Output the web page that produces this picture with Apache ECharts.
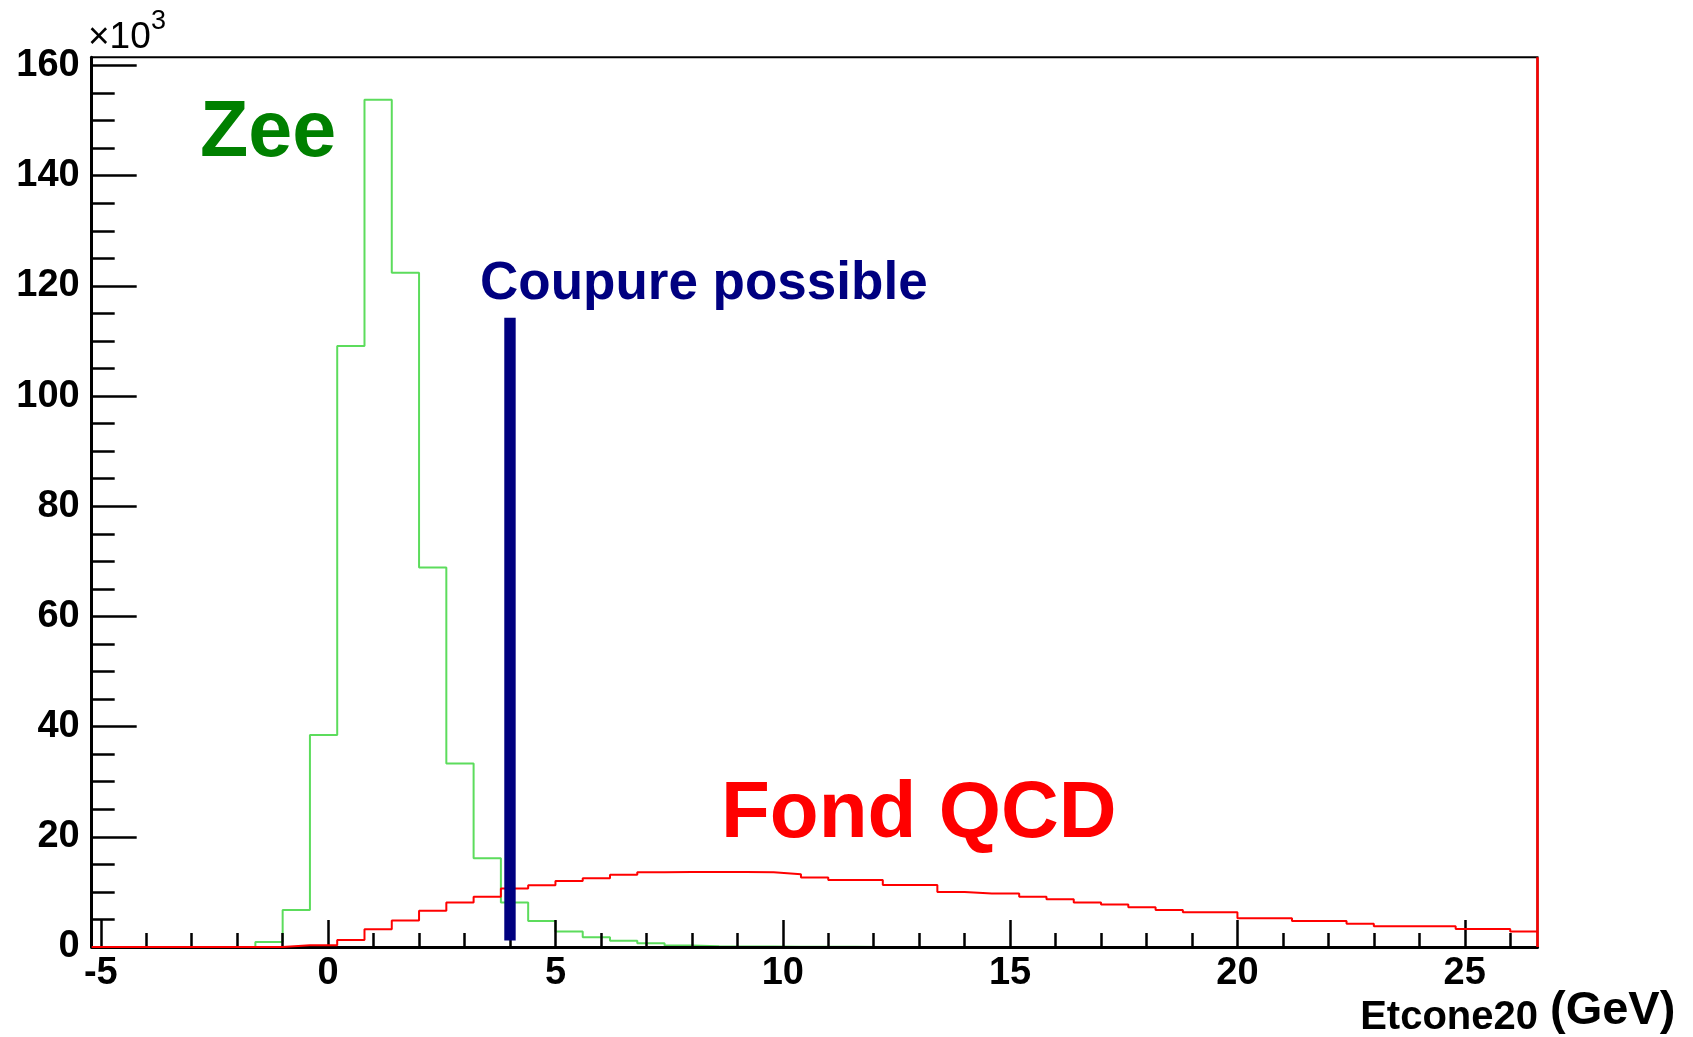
<!DOCTYPE html>
<html>
<head>
<meta charset="utf-8">
<script src="https://cdn.jsdelivr.net/npm/echarts@6/dist/echarts.min.js"></script>
<style>
  html, body { margin: 0; padding: 0; background: #ffffff; }
  #chart { width: 1693px; height: 1037px; }
</style>
</head>
<body>
<div id="chart"></div>
<script>
// Histogram binning (GeV)
const xMin = -5.2;
const xMax = 26.6;
const binWidth = 0.6;

// Entries per bin, in thousands (x10^3)
const zeeCounts = [
  0, 0, 0, 0, 0, 0, 0.9, 6.7, 38.5, 109.1,
  153.8, 122.4, 68.9, 33.3, 16.1, 8.1, 4.7, 2.8, 1.75, 1.15,
  0.7, 0.25, 0.15, 0.1, 0.08, 0.05, 0.04, 0.03, 0.02, 0.02,
  0.01, 0.01, 0, 0, 0, 0, 0, 0, 0, 0,
  0, 0, 0, 0, 0, 0, 0, 0, 0, 0,
  0, 0, 0
];
const qcdCounts = [
  0, 0, 0, 0, 0, 0, 0, 0.3, 0.3, 1.27,
  3.2, 4.8, 6.6, 8.1, 9.1, 10.6, 11.2, 12.0, 12.5, 13.1,
  13.55, 13.6, 13.6, 13.6, 13.55, 13.2, 12.6, 12.15, 12.15, 11.25,
  11.25, 10.0, 9.7, 9.7, 9.1, 8.65, 8.1, 7.7, 7.2, 6.7,
  6.3, 6.3, 5.2, 5.2, 4.7, 4.7, 4.2, 3.75, 3.75, 3.75,
  3.27, 3.27, 2.8
];

// Proposed isolation cut
const cutPosition = 4.0;
const cutSpan = [1.2, 114.2];

// Axis ticks
const yMax = 161.5;
const yTickLabels = [0, 20, 40, 60, 80, 100, 120, 140, 160];
const yMinorTicks = [0, 5, 10, 15, 20, 25, 30, 35, 40, 45, 50, 55, 60, 65, 70, 75, 80, 85, 90, 95,
  100, 105, 110, 115, 120, 125, 130, 135, 140, 145, 150, 155, 160];
const xTickLabels = [-5, 0, 5, 10, 15, 20, 25];
const xMinorTicks = [-5, -4, -3, -2, -1, 0, 1, 2, 3, 4, 5, 6, 7, 8, 9, 10, 11, 12, 13, 14, 15,
  16, 17, 18, 19, 20, 21, 22, 23, 24, 25, 26];

// Left bin edges, then a closing point at the upper edge
function stepPoints(values) {
  const pts = values.map((v, i) => [+(xMin + i * binWidth).toFixed(2), v]);
  pts.push([xMax, values[values.length - 1]]);
  return pts;
}

const labelFont = { fontFamily: 'Liberation Sans, Arial, sans-serif', fontWeight: 'bold', fontSize: 38, color: '#000' };
const tickStyle = { color: '#000', width: 2.5 };

const chart = echarts.init(document.getElementById('chart'), null, { renderer: 'canvas' });

chart.setOption({
  animation: false,
  backgroundColor: '#ffffff',
  grid: {
    left: 91.7, top: 57.3, right: 155.5, bottom: 90,
    show: true, borderColor: '#000', borderWidth: 2, backgroundColor: 'transparent',
    containLabel: false, outerBoundsMode: 'none'
  },
  xAxis: [
    {
      type: 'value', min: xMin, max: xMax, z: 2, position: 'bottom',
      axisLine: { show: true, onZero: false, lineStyle: { color: '#000', width: 3 } },
      axisTick: { show: true, inside: true, length: 27, customValues: xTickLabels, lineStyle: tickStyle },
      axisLabel: Object.assign({ show: true, margin: 8, customValues: xTickLabels, formatter: v => String(v) }, labelFont),
      splitLine: { show: false }
    },
    {
      type: 'value', min: xMin, max: xMax, z: 2, position: 'bottom',
      axisLine: { show: false, onZero: false },
      axisTick: { show: true, inside: true, length: 14, customValues: xMinorTicks, lineStyle: tickStyle },
      axisLabel: { show: false },
      splitLine: { show: false }
    }
  ],
  yAxis: [
    {
      type: 'value', min: 0, max: yMax, z: 2, position: 'left',
      axisLine: { show: true, onZero: false, lineStyle: { color: '#000', width: 3 } },
      axisTick: { show: true, inside: true, length: 45, customValues: yTickLabels, lineStyle: tickStyle },
      axisLabel: Object.assign({ show: true, margin: 12, padding: [6, 0, 0, 0], customValues: yTickLabels, formatter: v => String(v) }, labelFont),
      splitLine: { show: false }
    },
    {
      type: 'value', min: 0, max: yMax, z: 2, position: 'left',
      axisLine: { show: false, onZero: false },
      axisTick: { show: true, inside: true, length: 23, customValues: yMinorTicks, lineStyle: tickStyle },
      axisLabel: { show: false },
      splitLine: { show: false }
    }
  ],
  series: [
    {
      name: 'Zee', type: 'line', step: 'end', z: 1,
      data: stepPoints(zeeCounts),
      showSymbol: false, symbol: 'none',
      lineStyle: { color: '#5cdc5c', width: 2 },
      emphasis: { disabled: true }
    },
    {
      name: 'Fond QCD', type: 'line', step: 'end', z: 3,
      data: stepPoints(qcdCounts),
      showSymbol: false, symbol: 'none',
      lineStyle: { color: '#ff0000', width: 2 },
      emphasis: { disabled: true },
      markLine: {
        silent: true, symbol: ['none', 'none'], animation: false,
        label: { show: false },
        lineStyle: { color: '#ff0000', width: 2.5, type: 'solid' },
        data: [{ xAxis: xMax }]
      }
    },
    {
      name: 'Coupure possible', type: 'line', z: 4,
      data: [[cutPosition, cutSpan[0]], [cutPosition, cutSpan[1]]],
      showSymbol: false, symbol: 'none',
      lineStyle: { color: '#000080', width: 11.4, cap: 'butt' },
      emphasis: { disabled: true }
    }
  ],
  graphic: [
    { type: 'text', z: 10, style: { text: '×10', x: 88, y: 38, textVerticalAlign: 'middle', fill: '#000',
      font: 'normal 37px "Liberation Sans", Arial, sans-serif' } },
    { type: 'text', z: 10, style: { text: '3', x: 151, y: 22, textVerticalAlign: 'middle', fill: '#000',
      font: 'normal 27px "Liberation Sans", Arial, sans-serif' } },
    { type: 'text', z: 10, style: { text: 'Zee', x: 200, y: 134, textVerticalAlign: 'middle', fill: '#008000',
      font: 'bold 79px "Liberation Sans", Arial, sans-serif' } },
    { type: 'text', z: 10, style: { text: 'Coupure possible', x: 480, y: 284, textVerticalAlign: 'middle', fill: '#000080',
      font: 'bold 53px "Liberation Sans", Arial, sans-serif' } },
    { type: 'text', z: 10, style: { text: 'Fond QCD', x: 721, y: 815, textVerticalAlign: 'middle', fill: '#ff0000',
      font: 'bold 80px "Liberation Sans", Arial, sans-serif' } },
    { type: 'text', z: 10, style: { text: 'Etcone20', x: 1538, y: 1018, textAlign: 'right', textVerticalAlign: 'middle', fill: '#000',
      font: 'bold 40px "Liberation Sans", Arial, sans-serif' } },
    { type: 'text', z: 10, style: { text: '(GeV)', x: 1550, y: 1011, textAlign: 'left', textVerticalAlign: 'middle', fill: '#000',
      font: 'bold 47px "Liberation Sans", Arial, sans-serif' } }
  ]
});
</script>
</body>
</html>
